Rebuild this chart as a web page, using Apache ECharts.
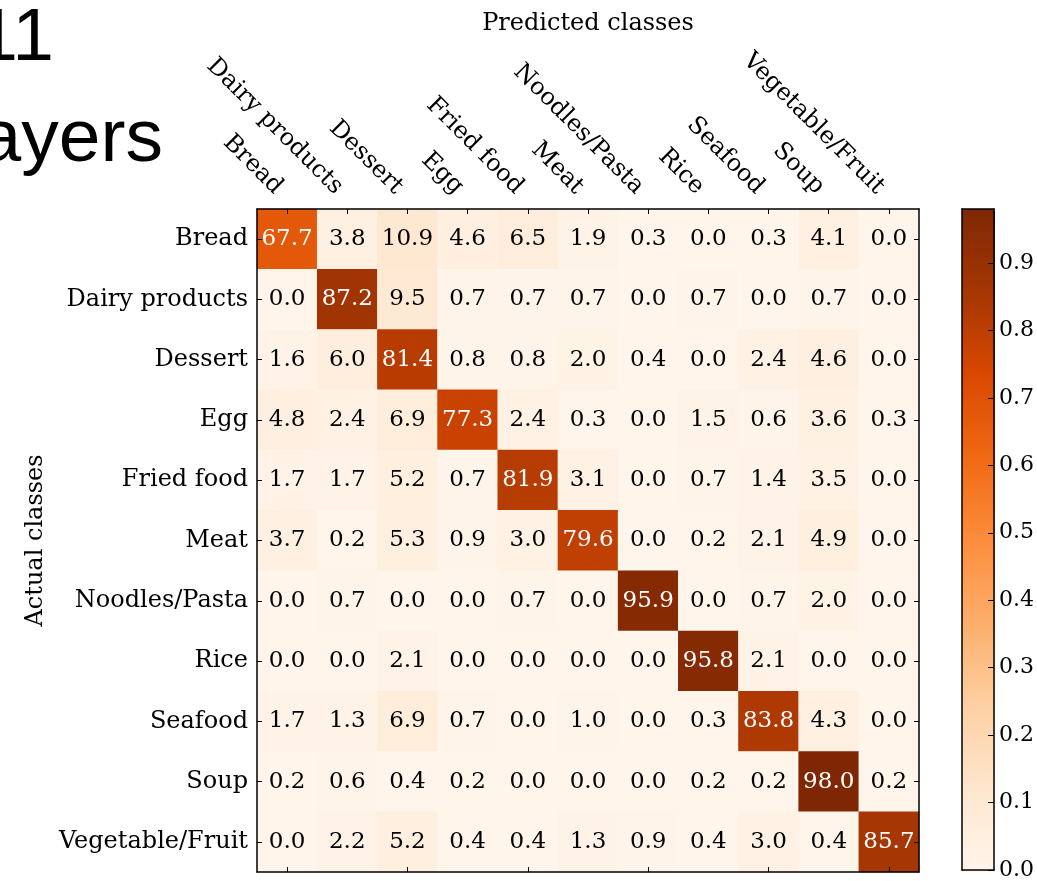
<!DOCTYPE html>
<html>
<head>
<meta charset="utf-8">
<script src="https://cdn.jsdelivr.net/npm/echarts@6/dist/echarts.min.js"></script>
<style>
html,body{margin:0;padding:0;background:#fff;}
#chart{width:1037px;height:881px;}
</style>
</head>
<body>
<div id="chart"></div>
<script>
// ---- data ----
const classes = ['Bread','Dairy products','Dessert','Egg','Fried food','Meat','Noodles/Pasta','Rice','Seafood','Soup','Vegetable/Fruit'];
const rowBread     = [67.7, 3.8, 10.9, 4.6, 6.5, 1.9, 0.3, 0.0, 0.3, 4.1, 0.0];
const rowDairy     = [0.0, 87.2, 9.5, 0.7, 0.7, 0.7, 0.0, 0.7, 0.0, 0.7, 0.0];
const rowDessert   = [1.6, 6.0, 81.4, 0.8, 0.8, 2.0, 0.4, 0.0, 2.4, 4.6, 0.0];
const rowEgg       = [4.8, 2.4, 6.9, 77.3, 2.4, 0.3, 0.0, 1.5, 0.6, 3.6, 0.3];
const rowFried     = [1.7, 1.7, 5.2, 0.7, 81.9, 3.1, 0.0, 0.7, 1.4, 3.5, 0.0];
const rowMeat      = [3.7, 0.2, 5.3, 0.9, 3.0, 79.6, 0.0, 0.2, 2.1, 4.9, 0.0];
const rowNoodles   = [0.0, 0.7, 0.0, 0.0, 0.7, 0.0, 95.9, 0.0, 0.7, 2.0, 0.0];
const rowRice      = [0.0, 0.0, 2.1, 0.0, 0.0, 0.0, 0.0, 95.8, 2.1, 0.0, 0.0];
const rowSeafood   = [1.7, 1.3, 6.9, 0.7, 0.0, 1.0, 0.0, 0.3, 83.8, 4.3, 0.0];
const rowSoup      = [0.2, 0.6, 0.4, 0.2, 0.0, 0.0, 0.0, 0.2, 0.2, 98.0, 0.2];
const rowVegetable = [0.0, 2.2, 5.2, 0.4, 0.4, 1.3, 0.9, 0.4, 3.0, 0.4, 85.7];
const colorbarMax = 0.98;
const colorbarTicks = [0.0, 0.1, 0.2, 0.3, 0.4, 0.5, 0.6, 0.7, 0.8, 0.9];

const rows = [rowBread, rowDairy, rowDessert, rowEgg, rowFried, rowMeat, rowNoodles, rowRice, rowSeafood, rowSoup, rowVegetable];
const oranges = ['#fff5eb','#fee6ce','#fdd0a2','#fdae6b','#fd8d3c','#f16913','#d94801','#a63603','#7f2704'];

const serif = 'DejaVu Serif';
const data = [];
rows.forEach((r, i) => r.forEach((v, j) => {
  data.push({ value: [j, i, v], label: { color: v > 50 ? '#ffffff' : '#000000' } });
}));

const G = { left: 257, top: 209, width: 662, height: 663 };
const CB = { left: 962, top: 209, width: 33, height: 663 };
const lineStyle = { color: '#000', width: 1.5 };

const chart = echarts.init(document.getElementById('chart'), null, { renderer: 'canvas' });
chart.setOption({
  animation: false,
  backgroundColor: '#fff',
  graphic: [
    { type: 'text', x: 54, y: 77, style: { text: '11', align: 'right', verticalAlign: 'bottom', fontFamily: 'Liberation Sans', fontSize: 75, fill: '#000' } },
    { type: 'text', x: 163, y: 178, style: { text: 'layers', align: 'right', verticalAlign: 'bottom', fontFamily: 'Liberation Sans', fontSize: 75, fill: '#000' } }
  ],
  grid: [
    { left: G.left, top: G.top, width: G.width, height: G.height, containLabel: false },
    { left: CB.left, top: CB.top, width: CB.width, height: CB.height, containLabel: false }
  ],
  xAxis: [
    { gridIndex: 0, type: 'category', data: classes, position: 'top', z: 10,
      axisLine: { show: true, lineStyle }, axisTick: { show: true, inside: true, alignWithLabel: true, length: 5, lineStyle: { color: '#000' } },
      axisLabel: { interval: 0, rotate: 45, margin: 10, padding: [0, 12, 0, 0], color: '#000', fontFamily: serif, fontSize: 24 },
      splitLine: { show: false },
      name: 'Predicted classes', nameLocation: 'middle', nameGap: 173,
      nameTextStyle: { color: '#000', fontFamily: serif, fontSize: 24 } },
    { gridIndex: 0, type: 'category', data: classes, position: 'bottom', z: 10,
      axisLine: { show: true, lineStyle }, axisTick: { show: true, inside: true, alignWithLabel: true, length: 5, lineStyle: { color: '#000' } },
      axisLabel: { show: false }, splitLine: { show: false } },
    { gridIndex: 1, type: 'value', min: 0, max: 1, position: 'top', z: 10,
      axisLine: { show: true, onZero: false, lineStyle }, axisTick: { show: false }, axisLabel: { show: false }, splitLine: { show: false } },
    { gridIndex: 1, type: 'value', min: 0, max: 1, position: 'bottom', z: 10,
      axisLine: { show: true, onZero: false, lineStyle }, axisTick: { show: false }, axisLabel: { show: false }, splitLine: { show: false } }
  ],
  yAxis: [
    { gridIndex: 0, type: 'category', data: classes, inverse: true, position: 'left', z: 10,
      axisLine: { show: true, lineStyle }, axisTick: { show: true, inside: true, alignWithLabel: true, length: 5, lineStyle: { color: '#000' } },
      axisLabel: { interval: 0, margin: 9, color: '#000', fontFamily: serif, fontSize: 24 },
      splitLine: { show: false },
      name: 'Actual classes', nameLocation: 'middle', nameGap: 209, nameRotate: 90,
      nameTextStyle: { color: '#000', fontFamily: serif, fontSize: 24 } },
    { gridIndex: 0, type: 'category', data: classes, inverse: true, position: 'right', z: 10,
      axisLine: { show: true, lineStyle }, axisTick: { show: true, inside: true, alignWithLabel: true, length: 5, lineStyle: { color: '#000' } },
      axisLabel: { show: false }, splitLine: { show: false } },
    { gridIndex: 1, type: 'value', min: 0, max: colorbarMax, interval: 0.1, position: 'right', z: 10,
      axisLine: { show: true, onZero: false, lineStyle }, axisTick: { show: true, inside: true, length: 6, lineStyle: { color: '#000' } },
      axisLabel: { show: true, margin: 5, color: '#000', fontFamily: serif, fontSize: 22, showMaxLabel: false,
        formatter: v => colorbarTicks.some(t => Math.abs(t - v) < 1e-6) ? v.toFixed(1) : '' },
      splitLine: { show: false } },
    { gridIndex: 1, type: 'value', min: 0, max: colorbarMax, position: 'left', z: 10,
      axisLine: { show: true, onZero: false, lineStyle }, axisTick: { show: false }, axisLabel: { show: false }, splitLine: { show: false } }
  ],
  visualMap: {
    type: 'continuous', min: 0, max: colorbarMax * 100, seriesIndex: 0, calculable: false,
    left: CB.left, top: CB.top, itemWidth: CB.width, itemHeight: CB.height, padding: 0,
    text: null, showLabel: false, inRange: { color: oranges }
  },
  series: [{
    type: 'heatmap', xAxisIndex: 0, yAxisIndex: 0, data: data,
    label: { show: true, formatter: p => p.value[2].toFixed(1), fontFamily: serif, fontSize: 23 },
    itemStyle: { borderWidth: 0 },
    emphasis: { disabled: true }
  }]
});
</script>
</body>
</html>
